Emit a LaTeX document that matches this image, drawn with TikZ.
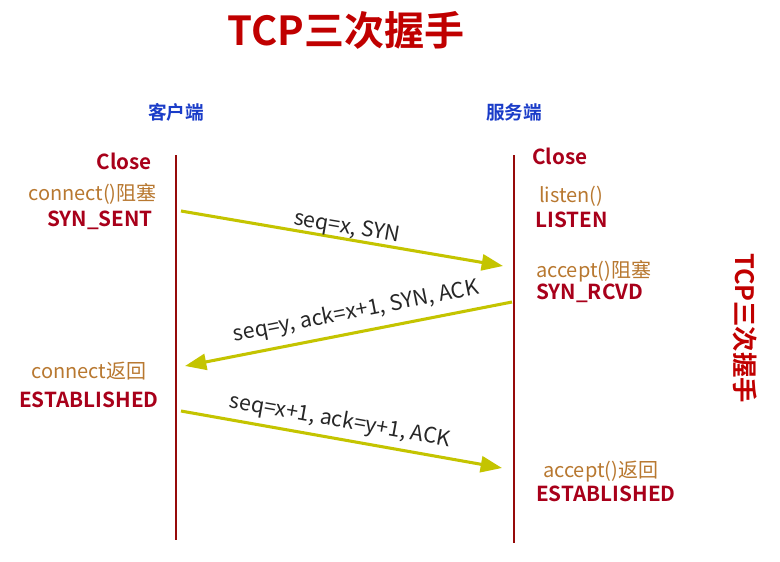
\documentclass[tikz,border=0pt]{standalone}
\usepackage{fontspec}
\setmainfont{Noto Sans CJK SC}[BoldFont={Noto Sans CJK SC Bold}]
\usetikzlibrary{arrows.meta}
\definecolor{lifered}{HTML}{960A0A}
\definecolor{statered}{HTML}{A8001A}
\definecolor{callbrown}{HTML}{B87830}
\definecolor{msgyellow}{HTML}{C4C400}
\definecolor{sideblue}{HTML}{1A3CC8}
\definecolor{titlered}{HTML}{C00000}
\tikzset{
  state/.style={text=statered,font=\bfseries\fontsize{15.5}{15.5}\selectfont,inner sep=0pt},
  call/.style={text=callbrown,font=\fontsize{15}{15}\selectfont,inner sep=0pt},
  side/.style={text=sideblue,font=\bfseries\fontsize{14}{14}\selectfont,inner sep=0pt},
  lifeline/.style={draw=lifered,line width=2.2pt},
  msg/.style={draw=msgyellow,line width=2.3pt,-{Triangle[length=16pt,width=12pt]}},
  msglabel/.style={text=black!85,font=\fontsize{16}{16}\selectfont,inner sep=0pt}
}
\begin{document}
\begin{tikzpicture}[x=0.75pt,y=0.75pt]
\useasboundingbox (0,0) rectangle (780,-561);
% titles
\node[text=titlered,font=\bfseries\fontsize{30}{30}\selectfont] (title) at (346,-30) {TCP三次握手};
\node[text=titlered,font=\bfseries\fontsize{19}{19}\selectfont,rotate=-90] (sidetitle) at (745,-328) {TCP三次握手};
\node[side] (client) at (176,-112) {客户端};
\node[side] (server) at (514,-112) {服务端};
% lifelines
\coordinate (ctop) at (176,-155);
\coordinate (cbot) at (176,-540);
\coordinate (stop) at (514,-155);
\coordinate (sbot) at (514,-543);
\draw[lifeline] (ctop) -- (cbot);
\draw[lifeline] (stop) -- (sbot);
% client side
\node[state,anchor=east] (cclose) at (152,-161) {Close};
\node[call,anchor=east] (cconn) at (157,-194) {connect()阻塞};
\node[state,anchor=east] (csent) at (153,-220) {SYN\_SENT};
\node[call] (cret) at (89,-371) {connect返回};
\node[state,anchor=west] (cest) at (19,-400) {ESTABLISHED};
% server side
\node[state,anchor=west] (sclose) at (532,-156) {Close};
\node[call,anchor=west] (slisten) at (539,-196) {listen()};
\node[state,anchor=west] (sls) at (535,-220) {LISTEN};
\node[call,anchor=west] (sacc) at (536,-271) {accept()阻塞};
\node[state,anchor=west] (srcvd) at (536,-293) {SYN\_RCVD};
\node[call,anchor=west] (sret) at (543,-472) {accept()返回};
\node[state,anchor=west] (sest) at (536,-494) {ESTABLISHED};
% messages
\coordinate (m1a) at (181,-211);
\coordinate (m1b) at (503,-266);
\coordinate (m2a) at (512,-302);
\coordinate (m2b) at (185,-366);
\coordinate (m3a) at (181,-411);
\coordinate (m3b) at (502,-468);
\draw[msg] (m1a) -- (m1b);
\draw[msg] (m2a) -- (m2b);
\draw[msg] (m3a) -- (m3b);
\node[msglabel,rotate=-9.7] (l1) at (347,-228) {seq=x, SYN};
\node[msglabel,rotate=11.1] (l2) at (356,-312) {seq=y, ack=x+1, SYN, ACK};
\node[msglabel,rotate=-10.1] (l3) at (340,-421) {seq=x+1, ack=y+1, ACK};
\end{tikzpicture}
\end{document}
